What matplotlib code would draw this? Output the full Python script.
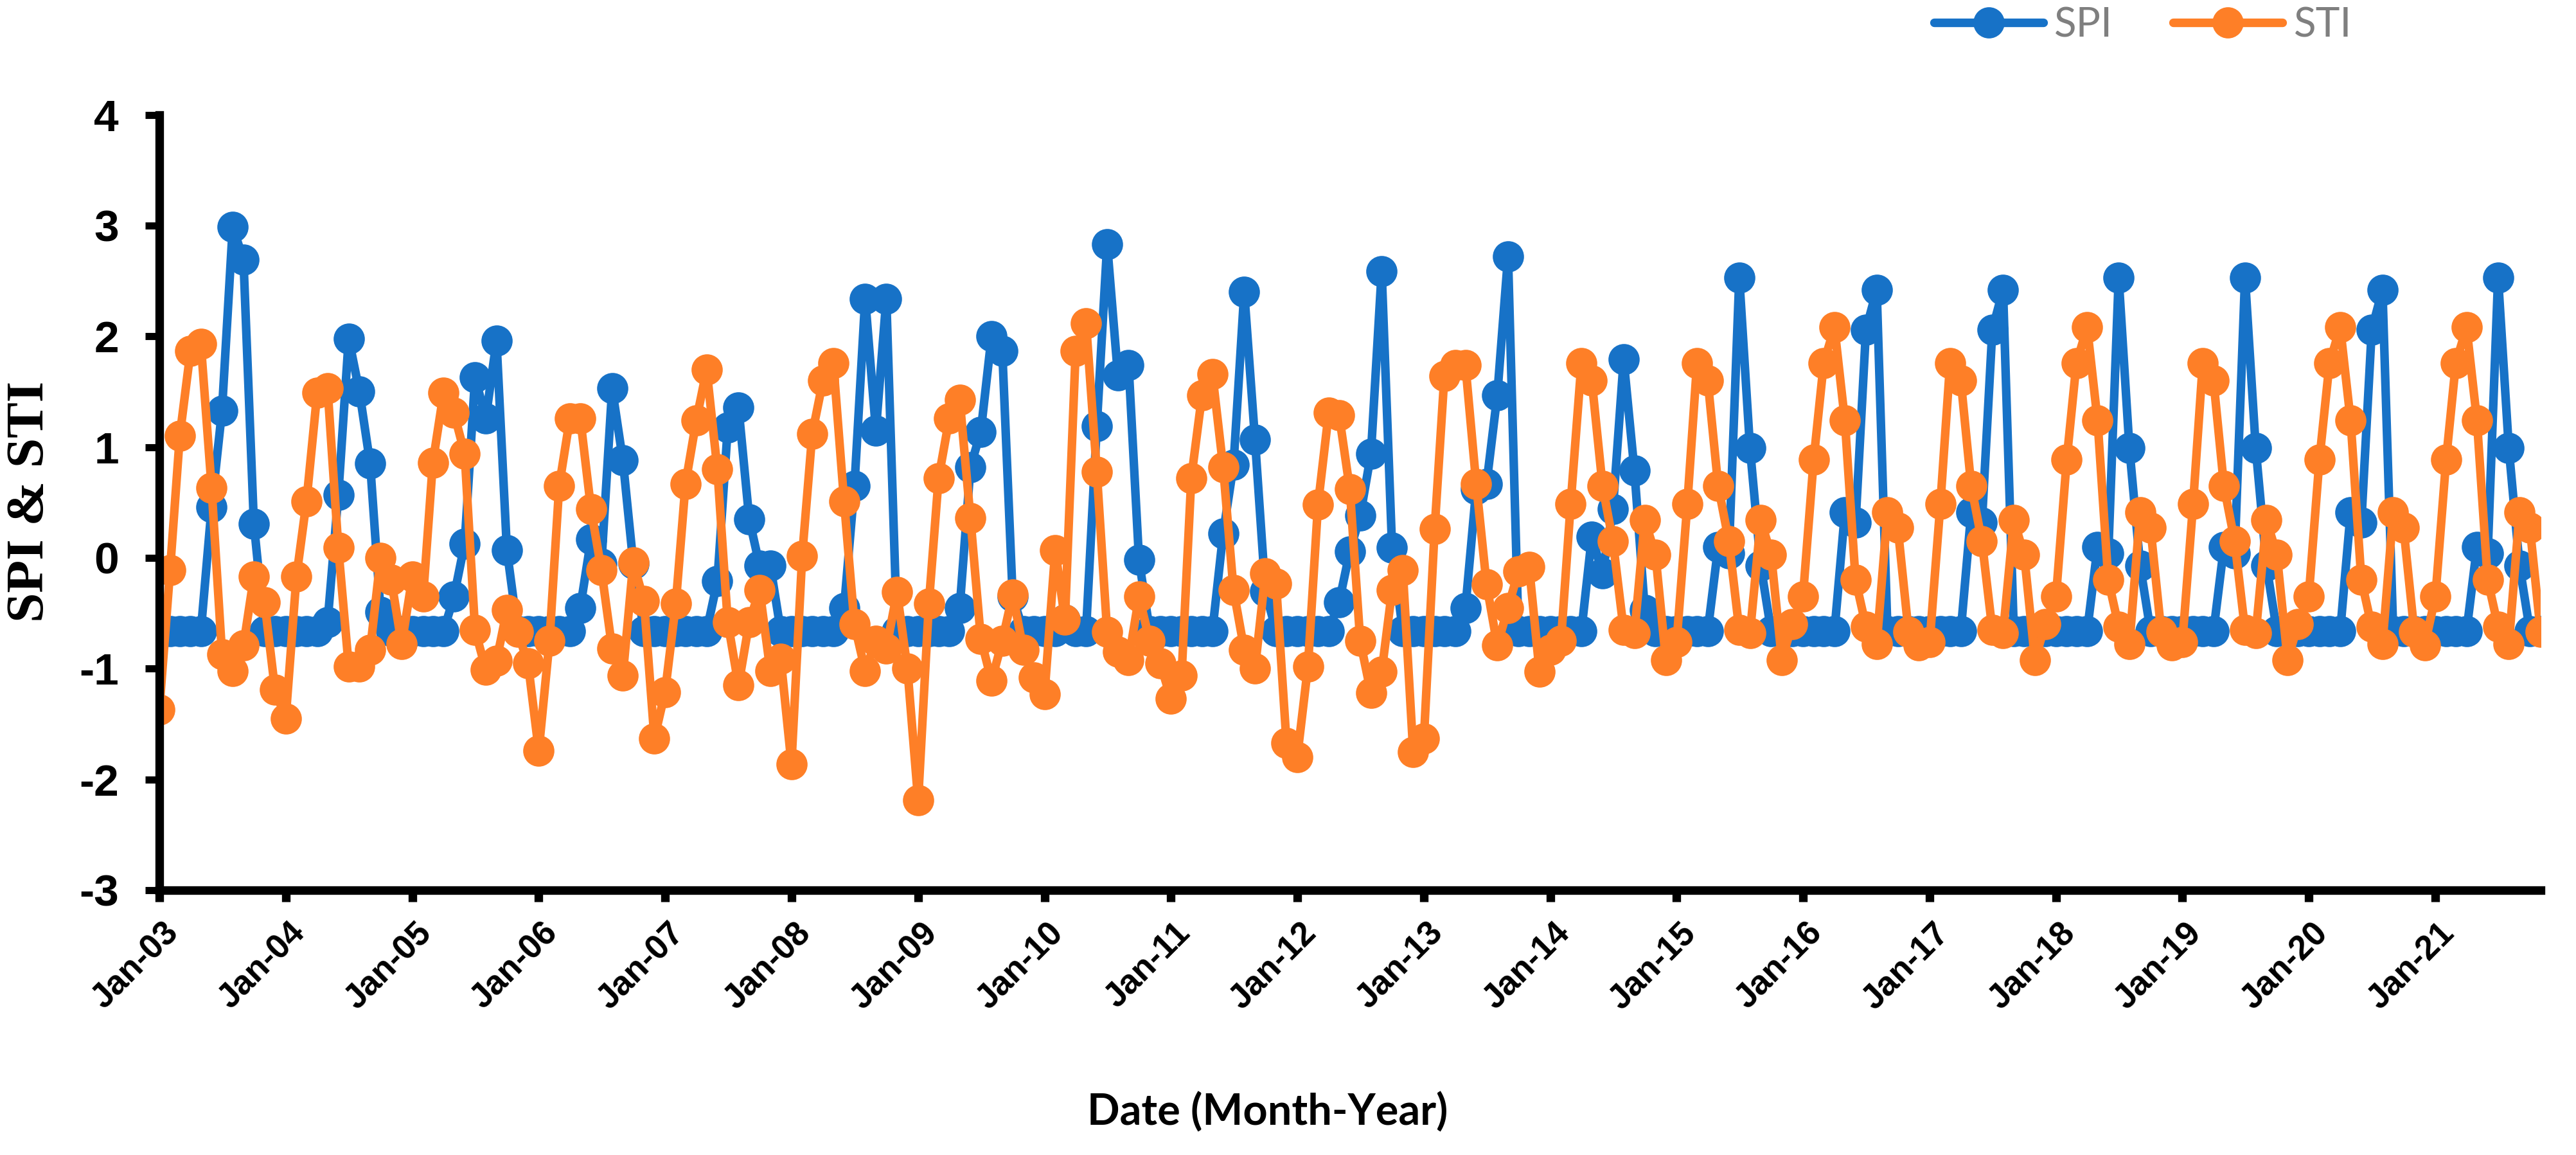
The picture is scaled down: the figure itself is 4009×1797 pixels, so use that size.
import numpy as np
import pandas as pd
import matplotlib
matplotlib.use('Agg')
import matplotlib.pyplot as plt
import matplotlib.dates as mdates
from matplotlib.transforms import ScaledTranslation

# monthly values, Jan-2003 .. Nov-2021
b = -0.66  # dry-month SPI floor

spi_2003 = [b, b, b, b, b, 0.46, 1.33, 2.99, 2.69, 0.31, b, b]
spi_2004 = [b, b, b, b, -0.58, 0.57, 1.98, 1.50, 0.85, -0.49, b, b]
spi_2005 = [b, b, b, b, -0.35, 0.13, 1.63, 1.26, 1.96, 0.07, b, b]
spi_2006 = [b, b, b, b, -0.45, 0.17, -0.05, 1.53, 0.88, -0.05, b, b]
spi_2007 = [b, b, b, b, b, -0.21, 1.18, 1.36, 0.35, -0.07, -0.07, b]
spi_2008 = [b, b, b, b, b, -0.45, 0.65, 2.34, 1.15, 2.34, b, b]
spi_2009 = [b, b, b, b, -0.45, 0.82, 1.14, 2.00, 1.87, -0.35, b, b]
spi_2010 = [b, b, -0.56, b, b, 1.19, 2.83, 1.65, 1.74, -0.02, b, b]
spi_2011 = [b, b, b, b, b, 0.22, 0.84, 2.40, 1.07, -0.30, b, b]
spi_2012 = [b, b, b, b, -0.40, 0.06, 0.38, 0.94, 2.59, 0.09, b, b]
spi_2013 = [b, b, b, b, -0.45, 0.62, 0.67, 1.47, 2.72, b, b, b]
spi_2014 = [b, b, b, b, 0.19, -0.14, 0.44, 1.79, 0.79, -0.47, b, b]
spi_2015 = [b, b, b, b, 0.10, 0.04, 2.53, 0.99, -0.07, b, b, b]
spi_2016 = [b, b, b, b, 0.41, 0.32, 2.06, 2.42, b, b, b, b]
spi_2017 = [b, b, b, b, 0.41, 0.32, 2.06, 2.42, b, b, b, b]
spi_2018 = [b, b, b, b, 0.10, 0.04, 2.53, 0.99, -0.07, b, b, b]
spi_2019 = [b, b, b, b, 0.10, 0.04, 2.53, 0.99, -0.07, b, b, b]
spi_2020 = [b, b, b, b, 0.41, 0.32, 2.06, 2.42, b, b, b, b]
spi_2021 = [b, b, b, b, 0.10, 0.04, 2.53, 0.99, -0.07, b, b]

sti_2003 = [-1.37, -0.11, 1.10, 1.87, 1.93, 0.63, -0.87, -1.02, -0.79, -0.17, -0.40, -1.19]
sti_2004 = [-1.45, -0.17, 0.51, 1.49, 1.53, 0.09, -0.98, -0.98, -0.83, 0.00, -0.20, -0.78]
sti_2005 = [-0.17, -0.35, 0.86, 1.49, 1.31, 0.94, -0.65, -1.01, -0.93, -0.47, -0.67, -0.95]
sti_2006 = [-1.74, -0.75, 0.65, 1.26, 1.26, 0.44, -0.11, -0.82, -1.06, -0.04, -0.39, -1.63]
sti_2007 = [-1.21, -0.41, 0.67, 1.24, 1.70, 0.80, -0.58, -1.15, -0.58, -0.29, -1.02, -0.91]
sti_2008 = [-1.86, 0.02, 1.12, 1.60, 1.76, 0.51, -0.60, -1.02, -0.75, -0.82, -0.31, -1.00]
sti_2009 = [-2.19, -0.41, 0.72, 1.26, 1.43, 0.36, -0.73, -1.11, -0.75, -0.33, -0.83, -1.08]
sti_2010 = [-1.23, 0.07, -0.56, 1.87, 2.12, 0.78, -0.67, -0.85, -0.92, -0.35, -0.75, -0.95]
sti_2011 = [-1.27, -1.06, 0.72, 1.47, 1.66, 0.82, -0.29, -0.83, -1.00, -0.14, -0.23, -1.67]
sti_2012 = [-1.80, -0.98, 0.48, 1.31, 1.29, 0.62, -0.75, -1.22, -1.03, -0.29, -0.11, -1.75]
sti_2013 = [-1.63, 0.26, 1.64, 1.74, 1.74, 0.67, -0.24, -0.79, -0.45, -0.12, -0.08, -1.03]
sti_2014 = [-0.83, -0.75, 0.49, 1.76, 1.60, 0.65, 0.15, -0.65, -0.68, 0.34, 0.03, -0.92]
sti_2015 = [-0.76, 0.49, 1.76, 1.60, 0.65, 0.15, -0.65, -0.68, 0.34, 0.03, -0.92, -0.60]
sti_2016 = [-0.35, 0.89, 1.76, 2.08, 1.24, -0.20, -0.62, -0.78, 0.41, 0.27, -0.67, -0.79]
sti_2017 = [-0.76, 0.49, 1.76, 1.60, 0.65, 0.15, -0.65, -0.68, 0.34, 0.03, -0.92, -0.60]
sti_2018 = [-0.35, 0.89, 1.76, 2.08, 1.24, -0.20, -0.62, -0.78, 0.41, 0.27, -0.67, -0.79]
sti_2019 = [-0.76, 0.49, 1.76, 1.60, 0.65, 0.15, -0.65, -0.68, 0.34, 0.03, -0.92, -0.60]
sti_2020 = [-0.35, 0.89, 1.76, 2.08, 1.24, -0.20, -0.62, -0.78, 0.41, 0.27, -0.67, -0.79]
sti_2021 = [-0.35, 0.89, 1.76, 2.08, 1.24, -0.20, -0.62, -0.78, 0.41, 0.27, -0.67]

spi = (spi_2003 + spi_2004 + spi_2005 + spi_2006 + spi_2007 + spi_2008 + spi_2009
       + spi_2010 + spi_2011 + spi_2012 + spi_2013 + spi_2014 + spi_2015 + spi_2016
       + spi_2017 + spi_2018 + spi_2019 + spi_2020 + spi_2021)
sti = (sti_2003 + sti_2004 + sti_2005 + sti_2006 + sti_2007 + sti_2008 + sti_2009
       + sti_2010 + sti_2011 + sti_2012 + sti_2013 + sti_2014 + sti_2015 + sti_2016
       + sti_2017 + sti_2018 + sti_2019 + sti_2020 + sti_2021)
dates = pd.date_range('2003-01-01', periods=len(spi), freq='MS')

plt.rcParams['axes.unicode_minus'] = False

W, H = 4009, 1797
fig = plt.figure(figsize=(W / 100, H / 100), dpi=100)
ax = fig.add_axes([248 / W, 1 - 1385 / H, (3954 - 248) / W, (1385 - 178.6) / H])

blue = '#1772C7'
orange = '#FE7F27'
style = dict(linewidth=9.6, markersize=35, marker='o', markeredgewidth=0,
             solid_joinstyle='round', solid_capstyle='round')
ax.plot(dates, spi, color=blue, label='SPI', **style)
ax.plot(dates, sti, color=orange, label='STI', **style)

ax.set_xlim(dates[0], dates[-1])
ax.set_ylim(-3, 4)
ax.set_yticks(range(-3, 5))

# axes look: thick black left/bottom only
for s in ['top', 'right']:
    ax.spines[s].set_visible(False)
for s in ['left', 'bottom']:
    ax.spines[s].set_linewidth(9.6)
    ax.spines[s].set_capstyle('projecting')

ax.xaxis.set_major_locator(mdates.YearLocator(1, month=1, day=1))
ax.xaxis.set_major_formatter(mdates.DateFormatter('%b-%y'))

ax.tick_params(axis='y', direction='out', length=15.5, width=8, pad=30)
ax.tick_params(axis='x', direction='out', length=12.6, width=9.6, pad=30)

for lab in ax.get_yticklabels():
    lab.set_fontfamily('Liberation Sans')
    lab.set_fontweight('bold')
    lab.set_fontsize(50)

shift = ScaledTranslation(0.22, 0, fig.dpi_scale_trans)
for lab in ax.get_xticklabels():
    lab.set_fontfamily('Liberation Sans')
    lab.set_fontweight('bold')
    lab.set_fontsize(38)
    lab.set_rotation(45)
    lab.set_ha('right')
    lab.set_va('center')
    lab.set_rotation_mode('anchor')
    lab.set_transform(lab.get_transform() + shift)

fig.text(47 / W, 1 - 780 / H, 'SPI & STI', rotation=90, ha='center', va='center',
         fontfamily='Liberation Serif', fontweight='bold', fontsize=60)
fig.text(1973 / W, 1 - 1731 / H, 'Date (Month-Year)', ha='center', va='center',
         fontfamily='Lato', fontweight='bold', fontsize=48)

leg = fig.legend(loc='center', bbox_to_anchor=(3335 / W, 1 - 39 / H), ncol=2,
                 frameon=False, handlelength=2.66, handletextpad=0.27,
                 columnspacing=1.47, prop={'family': 'Lato', 'size': 46})
for t in leg.get_texts():
    t.set_color('#7F7F7F')

fig.savefig('out.png', dpi=100)
